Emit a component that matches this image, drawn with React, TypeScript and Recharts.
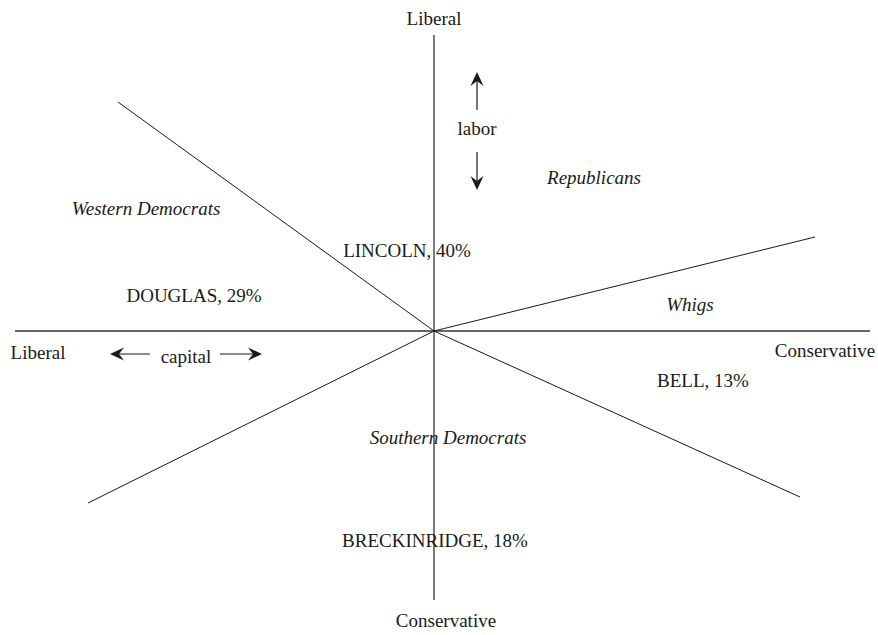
import { ScatterChart, Scatter, XAxis, YAxis, ReferenceLine } from 'recharts'

// origin = the center where all the dividing rays meet, y grows upward
const axisFrom = [[-419, 0], [0, 296]]
const axisTo = [[436, 0], [0, -269]]

// four rays out of the center: Western Dem / Republican, Whig / Bell, Southern Dem, Republican / Whig
const rayEnds = [[-316, 229], [366, -166], [-346, -172], [381, 94]]

const arrowFrom = [[43, 221], [43, 179], [-284, -23], [-214, -23]]
const arrowTo = [[43, 259], [43, 141], [-324, -23], [-172, -23]]

const candidates = ['LINCOLN, 40%', 'DOUGLAS, 29%', 'BELL, 13%', 'BRECKINRIDGE, 18%']
const candidateX = [-27, -240, 269, 1]
const candidateY = [81, 36, -49, -209]

const parties = ['Republicans', 'Western Democrats', 'Whigs', 'Southern Democrats']
const partyX = [160, -288, 256, 14]
const partyY = [154, 123, 27, -106]

const axisLabels = ['Liberal', 'Conservative', 'Liberal', 'Conservative', 'labor', 'capital']
const axisLabelX = [0, 12, -396, 391, 43, -248]
const axisLabelY = [313, -289, -21, -19, 203, -25]

const W = 878
const H = 635
const FONT = '"Times New Roman", "Liberation Serif", "DejaVu Serif", serif'
const INK = '#1a1a1a'

const toPoints = (names: string[], xs: number[], ys: number[]) =>
  names.map((name, i) => ({ name, x: xs[i], y: ys[i] }))

const candidateData = toPoints(candidates, candidateX, candidateY)
const partyData = toPoints(parties, partyX, partyY)
const axisLabelData = toPoints(axisLabels, axisLabelX, axisLabelY)

const textShape = (italic: boolean) => (props: any) => (
  <text
    x={props.cx}
    y={props.cy}
    textAnchor="middle"
    dominantBaseline="central"
    style={{ fontFamily: FONT, fontSize: 19, fontStyle: italic ? 'italic' : 'normal' }}
    fill={INK}
  >
    {props.payload.name}
  </text>
)

const arrowShape = (props: any) => {
  const { x1, y1, x2, y2 } = props
  const ang = Math.atan2(y2 - y1, x2 - x1)
  const c = Math.cos(ang)
  const s = Math.sin(ang)
  const pt = (a: number, b: number) => `${x2 + a * c - b * s},${y2 + a * s + b * c}`
  return (
    <g>
      <line x1={x1} y1={y1} x2={x2 - 7 * c} y2={y2 - 7 * s} stroke={INK} strokeWidth={1.2} />
      <polygon points={[pt(0, 0), pt(-14, -6.5), pt(-9, 0), pt(-14, 6.5)].join(' ')} fill={INK} />
    </g>
  )
}

export default function App() {
  return (
    <div style={{ position: 'absolute', left: 0, top: 0, width: W, height: H, background: '#fff' }}>
      <ScatterChart width={W} height={H} margin={{ top: 0, right: 0, bottom: 0, left: 0 }}>
        <XAxis type="number" dataKey="x" domain={[-434, 444]} hide allowDataOverflow />
        <YAxis type="number" dataKey="y" domain={[-304, 331]} hide allowDataOverflow />

        {axisFrom.map((p, i) => (
          <ReferenceLine
            key={`axis-${i}`}
            segment={[{ x: p[0], y: p[1] }, { x: axisTo[i][0], y: axisTo[i][1] }]}
            stroke="#333"
            strokeWidth={1.3}
            ifOverflow="visible"
          />
        ))}
        {rayEnds.map((p, i) => (
          <ReferenceLine
            key={`ray-${i}`}
            segment={[{ x: 0, y: 0 }, { x: p[0], y: p[1] }]}
            stroke={INK}
            strokeWidth={1}
            ifOverflow="visible"
          />
        ))}
        {arrowFrom.map((p, i) => (
          <ReferenceLine
            key={`arrow-${i}`}
            segment={[{ x: p[0], y: p[1] }, { x: arrowTo[i][0], y: arrowTo[i][1] }]}
            ifOverflow="visible"
            shape={arrowShape}
          />
        ))}

        <Scatter data={candidateData} shape={textShape(false)} isAnimationActive={false} />
        <Scatter data={partyData} shape={textShape(true)} isAnimationActive={false} />
        <Scatter data={axisLabelData} shape={textShape(false)} isAnimationActive={false} />
      </ScatterChart>
    </div>
  )
}
